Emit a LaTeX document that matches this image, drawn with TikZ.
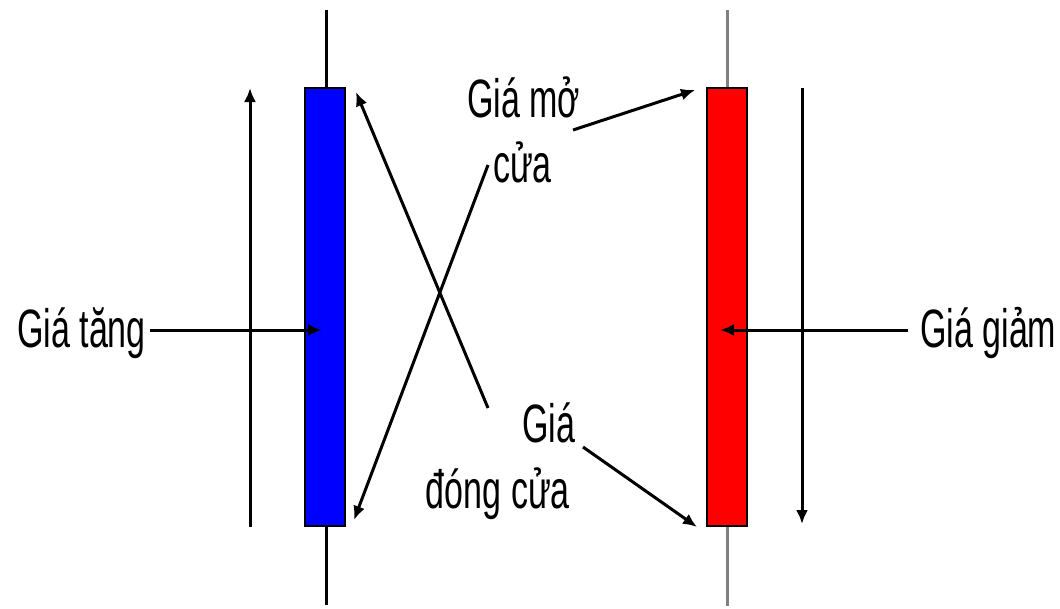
\documentclass[tikz,border=0pt]{standalone}
\usepackage{fontspec}
\setmainfont{Liberation Sans}[FakeStretch=0.63]
\usetikzlibrary{arrows.meta}
\begin{document}
\begin{tikzpicture}[x=1pt,y=-1pt,
  lbl/.style={inner sep=0pt, font=\fontsize{54}{58}\selectfont},
  conn/.style={line width=3pt, -{Latex[length=14pt,width=12pt]}},
  body/.style={draw=black, line width=2.5pt, minimum width=40pt, minimum height=438pt, inner sep=0pt},
  wick/.style={line width=3pt}]
\useasboundingbox (0,0) rectangle (1060,608);
% wicks
\coordinate (bwt) at (326,10);
\coordinate (bwb) at (326,605);
\coordinate (rwt) at (727,10);
\coordinate (rwb) at (727,606);
\draw[wick, black] (bwt) -- (bwb);
\draw[wick, gray] (rwt) -- (rwb);
% bodies
\node[body, fill=blue] (blue) at (325,307) {};
\node[body, fill=red] (red) at (727,307) {};
% labels
\node[lbl, anchor=base west] (tang) at (17,347) {Giá tăng};
\node[lbl, anchor=base west] (giam) at (920,347) {Giá giảm};
\node[lbl, anchor=base west] (mo1) at (467,117) {Giá mở};
\node[lbl, anchor=base west] (mo2) at (493,182) {cửa};
\node[lbl, anchor=base west] (dong1) at (522,442) {Giá};
\node[lbl, anchor=base east] (dong2) at (570,508) {đóng cửa};
% coordinates
\coordinate (tangS) at (150,330);
\coordinate (tangE) at (322,330);
\coordinate (giamS) at (908,330);
\coordinate (giamE) at (720,330);
\coordinate (upS) at (250,527);
\coordinate (upE) at (250,88);
\coordinate (dnS) at (802,88);
\coordinate (dnE) at (802,524);
\coordinate (moA) at (573,130);
\coordinate (moAE) at (695,90);
\coordinate (moB) at (488,165);
\coordinate (moBE) at (354,520);
\coordinate (dongA) at (488,408);
\coordinate (dongAE) at (356,92);
\coordinate (dongB) at (583,447);
\coordinate (dongBE) at (697,527);
% connectors
\draw[conn] (tangS) -- (tangE);
\draw[conn] (giamS) -- (giamE);
\draw[conn] (upS) -- (upE);
\draw[conn] (dnS) -- (dnE);
\draw[conn] (moA) -- (moAE);
\draw[conn] (moB) -- (moBE);
\draw[conn] (dongA) -- (dongAE);
\draw[conn] (dongB) -- (dongBE);
\end{tikzpicture}
\end{document}
